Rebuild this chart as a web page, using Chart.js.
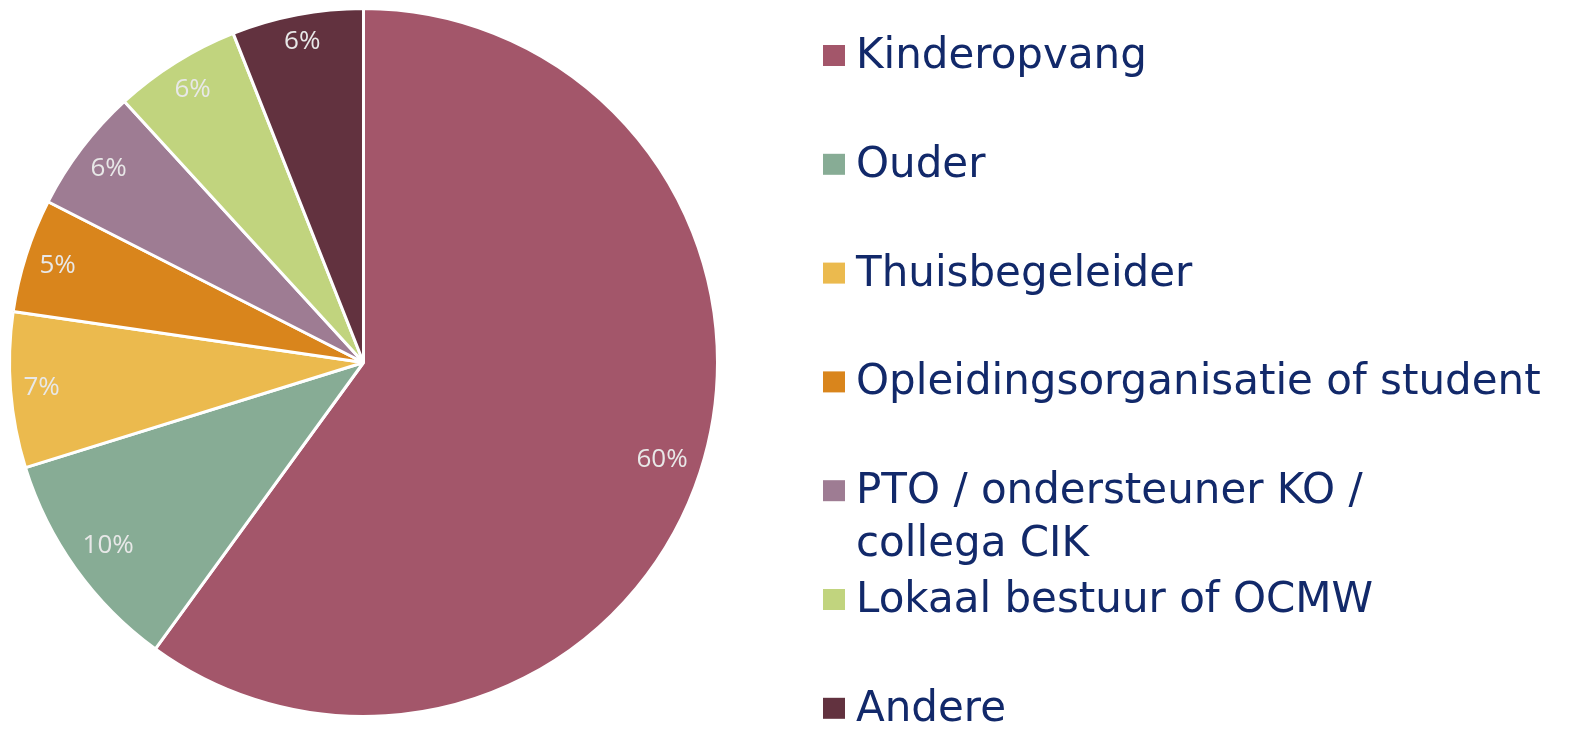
<!DOCTYPE html>
<html>
<head>
<meta charset="utf-8">
<script src="https://cdn.jsdelivr.net/npm/chart.js@4/dist/chart.umd.min.js"></script>
<style>
html, body { margin: 0; padding: 0; background: #fff; }
#wrap { position: relative; width: 1574px; height: 729px; }
</style>
</head>
<body>
<div id="wrap"><canvas id="chart" width="1574" height="729"></canvas></div>
<script>
const categories = [
  "Kinderopvang",
  "Ouder",
  "Thuisbegeleider",
  "Opleidingsorganisatie of student",
  ["PTO / ondersteuner KO /", "collega CIK"],
  "Lokaal bestuur of OCMW",
  "Andere"
]
const shares = [60.0, 10.2, 7.1, 5.2, 5.7, 5.8, 6.0]
const sliceColors = ["#a3566a", "#87ac95", "#ebba4e", "#d9851c", "#9e7c93", "#c1d47e", "#62323f"]

// percentage labels, pushed out until the text box nearly touches the rim
const sliceLabels = {
  id: "sliceLabels",
  afterDatasetsDraw(chart) {
    const ctx = chart.ctx
    const meta = chart.getDatasetMeta(0)
    ctx.save()
    ctx.font = "26px 'Open Sans'"
    ctx.fillStyle = "#e8e8e8"
    ctx.textAlign = "center"
    ctx.textBaseline = "middle"
    meta.data.forEach((arc, i) => {
      const p = arc.getProps(["x", "y", "startAngle", "endAngle", "outerRadius"], true)
      const txt = Math.round(shares[i]) + "%"
      const w = ctx.measureText(txt).width
      const h = 24
      const mid = (p.startAngle + p.endAngle) / 2
      const ux = Math.cos(mid), uy = Math.sin(mid)
      const ext = Math.abs(ux) * w / 2 + Math.abs(uy) * h / 2
      const r = p.outerRadius - 12 - ext
      ctx.fillText(txt, p.x + ux * r, p.y + uy * r)
    })
    ctx.restore()
  }
}

// legend on the right, one entry every ~109px
const sideLegend = {
  id: "sideLegend",
  afterDraw(chart) {
    const ctx = chart.ctx
    ctx.save()
    ctx.font = "42px 'DejaVu Sans'"
    ctx.textBaseline = "middle"
    ctx.textAlign = "left"
    categories.forEach((label, i) => {
      const y = 55 + i * 108.8
      ctx.fillStyle = sliceColors[i]
      ctx.fillRect(823, y - 10, 22, 21)
      ctx.fillStyle = "#12296a"
      const lines = Array.isArray(label) ? label : [label]
      lines.forEach((line, j) => ctx.fillText(line, 856, y + 2 + j * 53))
    })
    ctx.restore()
  }
}

new Chart(document.getElementById("chart"), {
  type: "pie",
  data: {
    labels: categories,
    datasets: [{
      data: shares,
      backgroundColor: sliceColors,
      borderColor: "#ffffff",
      borderWidth: 3,
      radius: 354
    }]
  },
  options: {
    responsive: false,
    animation: false,
    layout: { padding: { left: 9.5, right: 856.5, top: 8.5, bottom: 12.5 } },
    plugins: {
      legend: { display: false },
      tooltip: { enabled: false }
    }
  },
  plugins: [sliceLabels, sideLegend]
})
</script>
</body>
</html>
